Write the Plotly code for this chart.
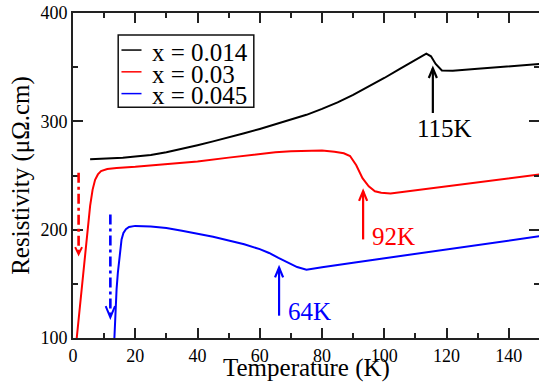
import plotly.graph_objects as go

# Resistivity vs temperature for three doping levels
temp_014 = [5.5, 8, 12, 16, 20, 25, 30, 35, 40, 45, 50, 55, 60, 65, 70, 75, 80, 85,
            90, 95, 100, 105, 110, 113.5, 115, 116.5, 118.5, 122, 130, 140, 150]
rho_014 = [265, 265.3, 265.8, 266.5, 267.5, 269, 271.5, 274.5, 278, 281.5, 285, 289,
           293, 297.5, 301.5, 306, 311.5, 317.5, 324.5, 332, 340, 348.5, 356.5, 362.5,
           360, 353, 347, 346.8, 348.5, 351, 353]

temp_03 = [1.2, 2.2, 3.3, 4.4, 5.5, 6.3, 7.1, 8, 9, 11, 14, 20, 30, 40, 50, 60, 65, 70,
           75, 80, 84, 87, 89, 91, 93, 95, 97, 99, 102, 110, 120, 130, 140, 150]
rho_03 = [100, 129, 160, 191, 222, 237, 246, 251, 254, 256, 257, 258, 260.5, 263, 266.5,
          270, 271.5, 272.5, 273, 273, 272, 270.5, 268, 259.5, 247.5, 240, 235.5, 234,
          233.5, 236.4, 240, 243.7, 247.4, 251]

temp_045 = [13.3, 13.6, 14, 14.4, 14.8, 15.2, 15.6, 16.2, 17, 18, 20, 25, 30, 35, 40, 45,
            50, 55, 60, 63, 66, 69, 72, 75, 80, 90, 100, 110, 120, 130, 140, 150]
rho_045 = [100, 125, 145, 160, 172, 183, 191, 197, 200.5, 202.5, 203.5, 203, 201.5, 199,
           196.5, 193.5, 190, 186.5, 182, 178.5, 174, 169.5, 165.5, 163, 165.4, 169.5,
           173.6, 177.7, 181.8, 185.9, 190, 194]

series_names = ["x = 0.014", "x = 0.03", "x = 0.045"]
series_colors = ["#000000", "#ff0000", "#0000ff"]

# Transition markers: temperature, arrow tail, arrow tip, label text and label anchor
tc_temps = [115.6, 93.2, 66.2]
tc_tail = [307.7, 191.0, 120.6]
tc_tip = [349.0, 235.6, 165.0]
tc_labels = ["115K", "92K", "64K"]
tc_label_x = [119.5, 95.5, 68.5]
tc_label_y = [293.4, 193.7, 124.9]
tc_label_anchor = ["center", "left", "left"]

# Dash-dot arrows marking the superconducting onset
sc_temps = [1.8, 12.0]
sc_tail = [252.5, 214.0]
sc_tip = [177.4, 119.0]
sc_colors = ["#ff0000", "#0000ff"]

FONT = "Liberation Serif, Times New Roman, Times, DejaVu Serif, serif"
AXIS_COLOR = "#222222"

fig = go.Figure()
for xs, ys, name, col in zip([temp_014, temp_03, temp_045],
                             [rho_014, rho_03, rho_045],
                             series_names, series_colors):
    fig.add_trace(go.Scatter(x=xs, y=ys, mode="lines", name=name,
                             line=dict(color=col, width=2), showlegend=False))

# helper trace so the right-hand tick axis is drawn
fig.add_trace(go.Scatter(x=[None], y=[None], yaxis="y2", showlegend=False,
                         hoverinfo="skip"))

shapes = []
annotations = []


def arrow_head(x, y_tip, direction, half_w, length, color, width):
    # open V head; direction +1 points up, -1 points down
    y_base = y_tip - direction * length
    return dict(type="path", xref="x", yref="y",
                path=f"M {x - half_w},{y_base} L {x},{y_tip} L {x + half_w},{y_base}",
                line=dict(color=color, width=width))


for t, y0, y1, lab, lx, ly, anc, col in zip(tc_temps, tc_tail, tc_tip, tc_labels,
                                            tc_label_x, tc_label_y, tc_label_anchor,
                                            series_colors):
    shapes.append(dict(type="line", xref="x", yref="y", x0=t, x1=t, y0=y0, y1=y1,
                       line=dict(color=col, width=2.2)))
    shapes.append(arrow_head(t, y1, 1, 1.3, 9.0, col, 2.2))
    annotations.append(dict(x=lx, y=ly, xref="x", yref="y", text=lab, showarrow=False,
                            xanchor=anc, yanchor="middle",
                            font=dict(family=FONT, size=25, color=col)))

for t, y0, y1, col, hw, hl in zip(sc_temps, sc_tail, sc_tip, sc_colors,
                                  [1.1, 1.5], [6.5, 10.5]):
    shapes.append(dict(type="line", xref="x", yref="y", x0=t, x1=t, y0=y0, y1=y1,
                       line=dict(color=col, width=2.6, dash="10px,4px,3px,4px")))
    shapes.append(arrow_head(t, y1, -1, hw, hl, col, 2.0))

# Legend box drawn in paper coordinates
leg_rows = [0.886, 0.819, 0.752]
shapes.append(dict(type="rect", xref="paper", yref="paper", x0=0.097, x1=0.388,
                   y0=0.71, y1=0.932, line=dict(color="#111111", width=1.5),
                   fillcolor="rgba(0,0,0,0)"))
for yr, name, col in zip(leg_rows, series_names, series_colors):
    shapes.append(dict(type="line", xref="paper", yref="paper", x0=0.104, x1=0.147,
                       y0=yr, y1=yr, line=dict(color=col, width=1.5)))
    annotations.append(dict(x=0.166, y=yr - 0.007, xref="paper", yref="paper",
                            text=name, showarrow=False, xanchor="left",
                            yanchor="middle",
                            font=dict(family=FONT, size=25, color="#000000")))

# x-axis title placed as a paper annotation for precise vertical placement
annotations.append(dict(x=0.5, y=-0.093, xref="paper", yref="paper",
                        text="Temperature (K)", showarrow=False, xanchor="center",
                        yanchor="middle",
                        font=dict(family=FONT, size=25, color="#000000")))

tick_font = dict(family=FONT, size=18, color="#000000")
fig.update_layout(
    width=539, height=386,
    margin=dict(l=73, r=0, t=13, b=48),
    paper_bgcolor="white", plot_bgcolor="white",
    showlegend=False,
    font=dict(family=FONT),
    shapes=shapes, annotations=annotations,
    xaxis=dict(range=[0, 149.7], tick0=0, dtick=20, ticks="inside", ticklen=10,
               tickwidth=2, tickcolor=AXIS_COLOR, showline=True, linewidth=2,
               linecolor=AXIS_COLOR, mirror="ticks", showgrid=False, zeroline=False,
               automargin=False,
               minor=dict(dtick=10, ticks="inside", ticklen=5, tickwidth=2,
                          tickcolor=AXIS_COLOR, showgrid=False),
               tickfont=tick_font),
    yaxis=dict(range=[100, 400], tick0=100, dtick=100, ticks="inside", ticklen=10,
               tickwidth=2, tickcolor=AXIS_COLOR, showline=True, linewidth=2,
               linecolor=AXIS_COLOR, mirror=False, showgrid=False, zeroline=False,
               automargin=False,
               minor=dict(dtick=50, ticks="inside", ticklen=5, tickwidth=2,
                          tickcolor=AXIS_COLOR, showgrid=False),
               tickfont=tick_font,
               title=dict(text="Resistivity (μΩ.cm)", standoff=4,
                          font=dict(family=FONT, size=25, color="#000000"))),
    yaxis2=dict(range=[100, 400], tick0=100, dtick=100, overlaying="y", side="right",
                anchor="x", ticks="inside", ticklen=10, tickwidth=2,
                tickcolor=AXIS_COLOR, showline=False, showgrid=False, zeroline=False,
                showticklabels=False, automargin=False,
                minor=dict(dtick=50, ticks="inside", ticklen=5, tickwidth=2,
                           tickcolor=AXIS_COLOR, showgrid=False)),
)

fig.write_html("out.html")
